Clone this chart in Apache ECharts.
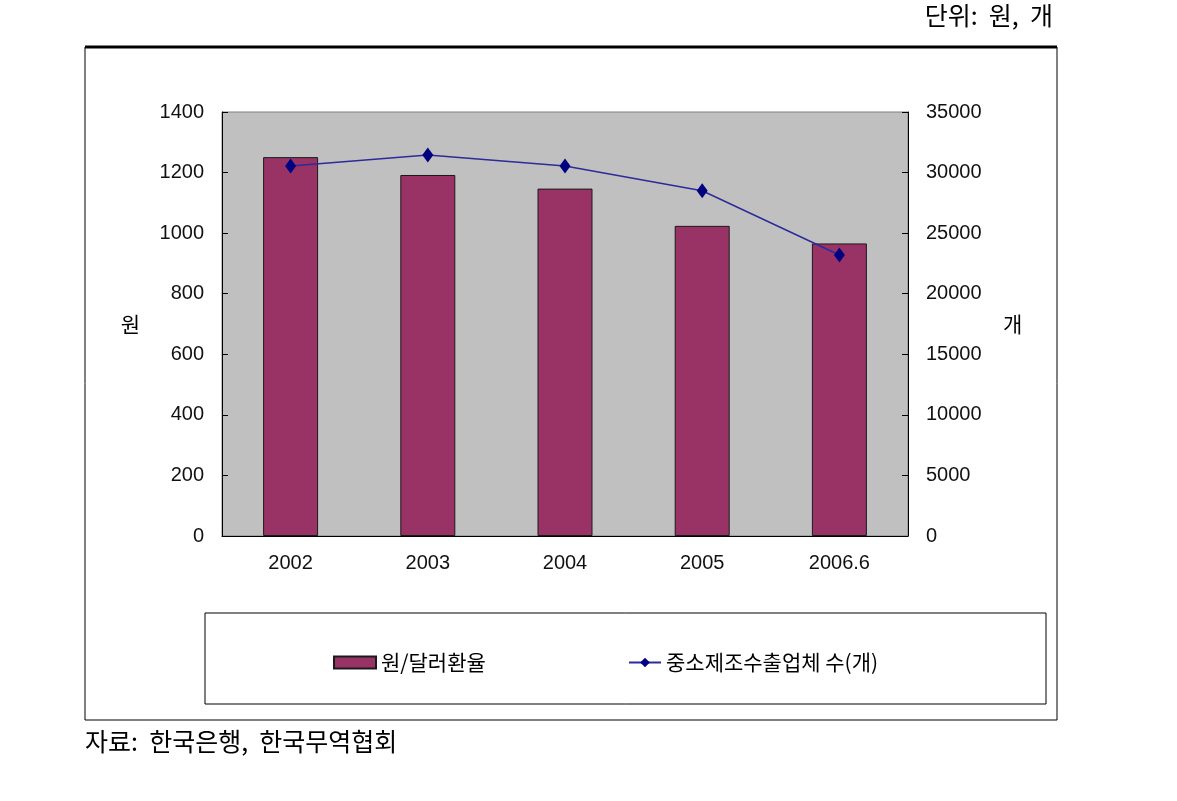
<!DOCTYPE html>
<html><head><meta charset="utf-8">
<script src="https://cdn.jsdelivr.net/npm/echarts@6/dist/echarts.min.js"></script>
<style>html,body{margin:0;padding:0;background:#fff}#c{width:1177px;height:801px}</style>
</head><body><div id="c"></div>
<script>
const categories = ['2002', '2003', '2004', '2005', '2006.6'];
const exchangeRate = [1251, 1192, 1147, 1024, 966];
const exporters = [30550, 31450, 30550, 28500, 23200];
const leftTicks = [0, 200, 400, 600, 800, 1000, 1200, 1400];
const rightTicks = [0, 5000, 10000, 15000, 20000, 25000, 30000, 35000];
const barName = '원/달러환율';
const lineName = '중소제조수출업체 수(개)';

const FONT = '"Liberation Sans", Arial, "Noto Sans CJK KR", sans-serif';
const KFONT = '"Noto Sans CJK KR", sans-serif';
const chart = echarts.init(document.getElementById('c'));
chart.setOption({
  animation: false,
  textStyle: { fontFamily: FONT },
  graphic: [
    { type: 'rect', shape: { x: 85, y: 47, width: 972, height: 673 }, style: { fill: 'none', stroke: '#000', lineWidth: 1 }, z: -10 },
    { type: 'line', shape: { x1: 85, y1: 47, x2: 1057, y2: 47 }, style: { stroke: '#000', lineWidth: 3 }, z: -9 },
    { type: 'rect', shape: { x: 205, y: 613, width: 841, height: 91 }, style: { fill: 'none', stroke: '#000', lineWidth: 1 }, z: -9 },
    { type: 'text', right: 124, top: 3, style: { text: '단위:  원,  개', font: '25px "Noto Sans CJK KR"', fill: '#000' } },
    { type: 'text', left: 85, top: 729, style: { text: '자료:  한국은행,  한국무역협회', font: '25px "Noto Sans CJK KR"', fill: '#000' } }
  ],
  grid: { left: 222, right: 269, top: 112, bottom: 265, show: true, backgroundColor: '#c0c0c0', borderColor: '#808080', borderWidth: 1 },
  legend: [
    { data: [{ name: barName, icon: 'rect' }], left: 328, top: 647, itemWidth: 42, itemHeight: 12, itemGap: 4,
      textStyle: { fontSize: 21, color: '#000', fontFamily: KFONT } },
    { data: [lineName], left: 623, top: 647, itemWidth: 32, itemHeight: 12, itemGap: 3,
      textStyle: { fontSize: 21, color: '#000', fontFamily: KFONT } }
  ],
  xAxis: {
    type: 'category', data: categories,
    axisLine: { lineStyle: { color: '#000' } },
    axisTick: { inside: true, length: 6, lineStyle: { color: '#000' } },
    axisLabel: { color: '#111', fontSize: 20, margin: 17 }
  },
  yAxis: [
    { type: 'value', min: 0, max: 1400, interval: 200, name: '원', nameLocation: 'middle', nameGap: 82, nameRotate: 0,
      nameTextStyle: { fontSize: 21, color: '#000', fontFamily: KFONT },
      axisLine: { show: true, lineStyle: { color: '#000' } },
      axisTick: { show: true, inside: true, length: 6, lineStyle: { color: '#000' } },
      axisLabel: { color: '#111', fontSize: 20, margin: 18, formatter: v => String(v) },
      splitLine: { show: false } },
    { type: 'value', min: 0, max: 35000, interval: 5000, name: '개', nameLocation: 'middle', nameGap: 95, nameRotate: 0,
      nameTextStyle: { fontSize: 21, color: '#000', fontFamily: KFONT },
      axisLine: { show: true, lineStyle: { color: '#000' } },
      axisTick: { show: true, inside: true, length: 6, lineStyle: { color: '#000' } },
      axisLabel: { color: '#111', fontSize: 20, margin: 18, formatter: v => String(v) },
      splitLine: { show: false } }
  ],
  series: [
    { name: barName, type: 'bar', data: exchangeRate, barWidth: 55, yAxisIndex: 0,
      itemStyle: { color: '#993366', borderColor: '#1a1a1a', borderWidth: 1 } },
    { name: lineName, type: 'line', data: exporters, yAxisIndex: 1, symbol: 'diamond', symbolSize: [11, 15],
      lineStyle: { color: '#2b2b9a', width: 1.5 }, itemStyle: { color: '#000080' } }
  ]
});
</script></body></html>
